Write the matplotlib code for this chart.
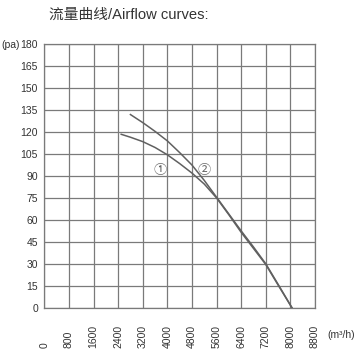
import matplotlib
matplotlib.use("Agg")
import matplotlib.pyplot as plt

# ---- data ----
flow2 = [2800, 3200, 3600, 4000, 4400, 4800, 5200, 5600, 6000, 6400, 6800, 7200, 7600, 8050]
press2 = [132, 126.5, 120.5, 114, 106, 97.5, 87, 75.5, 64, 52.5, 41.5, 30, 16, 0]
flow1 = [2500, 2800, 3200, 3600, 4000, 4400, 4800, 5200, 5600, 6000, 6400, 6800, 7200, 7600, 8050]
press1 = [118.5, 116.5, 113.5, 109.5, 104.5, 98.5, 92, 84.5, 75, 63.5, 51.5, 40.5, 29.5, 15.5, 0]
xticks = [0, 800, 1600, 2400, 3200, 4000, 4800, 5600, 6400, 7200, 8000, 8800]
yticks = [0, 15, 30, 45, 60, 75, 90, 105, 120, 135, 150, 165, 180]
labels = ["①", "②"]
label_pos = [(3760, 94), (5200, 94)]
title = "流量曲线/Airflow curves:"

plt.rcParams['font.family'] = ['Liberation Sans', 'Noto Sans CJK SC', 'DejaVu Sans']

fig = plt.figure(figsize=(3.55, 3.55), dpi=100)
ax = fig.add_axes([44.3/355, 1-307.7/355, (315-44.3)/355, (307.7-44.3)/355])

ax.set_xlim(0, 8800)
ax.set_ylim(0, 180)
ax.set_xticks(xticks)
ax.set_yticks(yticks)
ax.grid(True, color='#7a7a7a', lw=0.9)
ax.set_axisbelow(True)
for s in ax.spines.values():
    s.set_color('#7a7a7a')
    s.set_linewidth(0.9)
ax.tick_params(length=0, labelsize=7.5, colors='#333333')
ax.tick_params(axis='y', pad=4.6)
ax.tick_params(axis='x', pad=29, labelrotation=90)
for lbl in ax.get_xticklabels():
    lbl.set_va('bottom')

ax.plot(flow2, press2, color='#606060', lw=1.1)
ax.plot(flow1, press1, color='#606060', lw=1.1)

for t, (x, y) in zip(labels, label_pos):
    ax.text(x, y, t, ha='center', va='center', fontsize=9.5, color='#666666',
            family=['Noto Sans CJK SC', 'DejaVu Sans'])

fig.text(129/355, 1-15/355, title, ha='center', va='center', fontsize=10.6,
         color='#333333', family=['Liberation Sans', 'Noto Sans CJK SC'])
fig.text(1/355, 1-45/355, "(pa)", ha='left', va='center', fontsize=7.5, color='#333333')
fig.text(341/355, 1-335/355, "(m³/h)", ha='center', va='center', fontsize=7.5, color='#333333')

fig.savefig("out.png", dpi=100)
